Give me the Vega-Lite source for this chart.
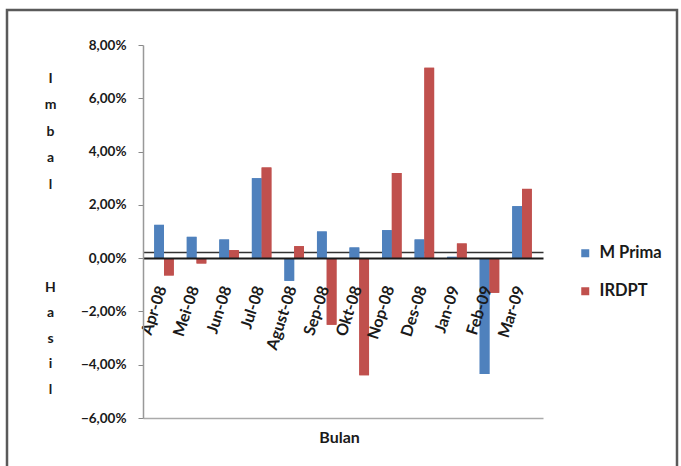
{
  "$schema": "https://vega.github.io/schema/vega-lite/v6.json",
  "width": 670,
  "height": 460,
  "autosize": {"type": "none"},
  "padding": {"left": 7, "top": 10, "right": 4, "bottom": 0},
  "background": "white",
  "config": {
    "view": {"stroke": "#5a5a5a", "strokeWidth": 2.5, "fill": "white"},
    "font": "Lato"
  },
  "data": {
    "values": [
      {"bulan": "Apr-08", "seri": "M Prima", "nilai": 1.25},
      {"bulan": "Apr-08", "seri": "IRDPT", "nilai": -0.65},
      {"bulan": "Mei-08", "seri": "M Prima", "nilai": 0.8},
      {"bulan": "Mei-08", "seri": "IRDPT", "nilai": -0.2},
      {"bulan": "Jun-08", "seri": "M Prima", "nilai": 0.7},
      {"bulan": "Jun-08", "seri": "IRDPT", "nilai": 0.3},
      {"bulan": "Jul-08", "seri": "M Prima", "nilai": 3.0},
      {"bulan": "Jul-08", "seri": "IRDPT", "nilai": 3.4},
      {"bulan": "Agust-08", "seri": "M Prima", "nilai": -0.85},
      {"bulan": "Agust-08", "seri": "IRDPT", "nilai": 0.45},
      {"bulan": "Sep-08", "seri": "M Prima", "nilai": 1.0},
      {"bulan": "Sep-08", "seri": "IRDPT", "nilai": -2.5},
      {"bulan": "Okt-08", "seri": "M Prima", "nilai": 0.4},
      {"bulan": "Okt-08", "seri": "IRDPT", "nilai": -4.4},
      {"bulan": "Nop-08", "seri": "M Prima", "nilai": 1.05},
      {"bulan": "Nop-08", "seri": "IRDPT", "nilai": 3.2},
      {"bulan": "Des-08", "seri": "M Prima", "nilai": 0.7},
      {"bulan": "Des-08", "seri": "IRDPT", "nilai": 7.15},
      {"bulan": "Jan-09", "seri": "M Prima", "nilai": 0.05},
      {"bulan": "Jan-09", "seri": "IRDPT", "nilai": 0.55},
      {"bulan": "Feb-09", "seri": "M Prima", "nilai": -4.35},
      {"bulan": "Feb-09", "seri": "IRDPT", "nilai": -1.3},
      {"bulan": "Mar-09", "seri": "M Prima", "nilai": 1.95},
      {"bulan": "Mar-09", "seri": "IRDPT", "nilai": 2.6}
    ]
  },
  "encoding": {
    "xOffset": {
      "field": "seri",
      "type": "nominal",
      "sort": ["M Prima", "IRDPT"],
      "scale": {"paddingInner": 0, "paddingOuter": 0}
    },
    "color": {
      "field": "seri",
      "type": "nominal",
      "sort": ["M Prima", "IRDPT"],
      "scale": {"range": ["#4F81BD", "#C0504D"]},
      "legend": {
        "orient": "none",
        "legendX": 570,
        "legendY": 235,
        "title": null,
        "symbolType": "square",
        "symbolSize": 64,
        "symbolStrokeWidth": 0,
        "labelFont": "Lato",
        "labelFontSize": 16.5,
        "labelFontWeight": "bold",
        "labelColor": "#1a1a1a",
        "rowPadding": 21,
        "labelOffset": 6,
        "padding": 0
      }
    }
  },
  "layer": [
    {
      "mark": {"type": "bar"},
      "encoding": {
        "x": {
          "field": "bulan",
          "type": "nominal",
          "sort": null,
          "scale": {"range": [136, 536], "paddingInner": 0.4, "paddingOuter": 0.345, "align": 0.5},
          "axis": {
            "title": null,
            "orient": "bottom",
            "offset": -218,
            "domainColor": "#333333",
            "domainWidth": 1.5,
            "ticks": false,
            "labels": false,
            "zindex": 0
          }
        },
        "y": {
          "field": "nilai",
          "type": "quantitative",
          "scale": {"domain": [-6, 8], "range": [408, 35], "nice": false, "zero": false},
          "axis": {
            "values": [-6, -4, -2, 0, 2, 4, 6, 8],
            "labelExpr": "replace(format(datum.value, '.2f'), '.', ',') + '%'",
            "orient": "left",
            "offset": -136,
            "domainColor": "#999999",
            "domainWidth": 1.5,
            "tickColor": "#888888",
            "tickSize": 5,
            "labelPadding": 12,
            "labelFont": "Lato",
            "labelFontWeight": "bold",
            "labelFontSize": 13.5,
            "labelColor": "#1a1a1a",
            "grid": true,
            "gridColor": {"condition": {"test": "datum.value === 0", "value": "#1a1a1a"}, "value": "#aaaaaa"},
            "gridWidth": {"condition": {"test": "datum.value === 0", "value": 2}, "value": 1.5},
            "gridOpacity": {"condition": {"test": "datum.value === 0 || datum.value === -6", "value": 1}, "value": 0},
            "title": ["I", "m", "b", "a", "l"],
            "titleAngle": 0,
            "titleX": -93,
            "titleY": 68,
            "titleAlign": "center",
            "titleBaseline": "middle",
            "titleLineHeight": 26.5,
            "titleFont": "Lato",
            "titleFontSize": 14,
            "titleFontWeight": "bold",
            "titleColor": "#1a1a1a",
            "zindex": 1
          }
        }
      }
    },
    {
      "mark": {"type": "bar"},
      "encoding": {
        "x": {
          "field": "bulan",
          "type": "nominal",
          "sort": null,
          "scale": {"range": [136, 536], "paddingInner": 0.4, "paddingOuter": 0.345, "align": 0.5},
          "axis": {
            "title": "Bulan",
            "orient": "bottom",
            "offset": -218,
            "domain": false,
            "ticks": false,
            "labelAngle": -72,
            "labelAlign": "right",
            "labelBaseline": "middle",
            "labelPadding": 34,
            "labelOffset": -2,
            "labelFont": "Lato",
            "labelFontWeight": "bold",
            "labelFontSize": 16,
            "labelColor": "#1a1a1a",
            "labelOverlap": false,
            "titleX": 332,
            "titleY": 185,
            "titleAlign": "center",
            "titleBaseline": "middle",
            "titleFont": "Lato",
            "titleFontSize": 16,
            "titleFontWeight": "bold",
            "titleColor": "#1a1a1a",
            "zindex": 1
          }
        },
        "y": {
          "field": "nilai",
          "type": "quantitative",
          "scale": {"domain": [-6, 8], "range": [408, 35], "nice": false, "zero": false},
          "axis": {
            "orient": "left",
            "offset": -136,
            "domain": false,
            "ticks": false,
            "labels": false,
            "grid": false,
            "title": ["H", "a", "s", "i", "l"],
            "titleAngle": 0,
            "titleX": -93,
            "titleY": 277,
            "titleAlign": "center",
            "titleBaseline": "middle",
            "titleLineHeight": 25.5,
            "titleFont": "Lato",
            "titleFontSize": 14,
            "titleFontWeight": "bold",
            "titleColor": "#1a1a1a",
            "zindex": 1
          }
        }
      }
    }
  ],
  "resolve": {"axis": {"x": "independent", "y": "independent"}}
}
